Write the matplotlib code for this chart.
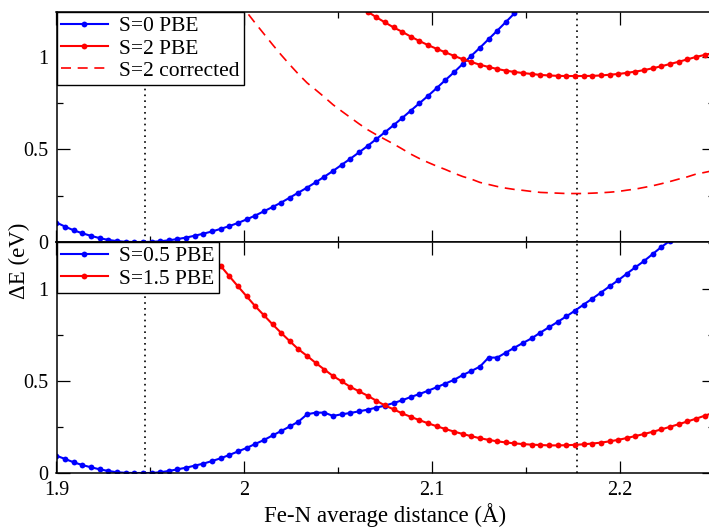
import matplotlib
matplotlib.use("Agg")
import matplotlib.pyplot as plt
from matplotlib.ticker import MultipleLocator, FuncFormatter

plt.rcParams['font.family'] = ['Liberation Serif', 'DejaVu Serif']
plt.rcParams['mathtext.fontset'] = 'stix'

# ---------------- data ----------------
# common Fe-N distance grid (Angstrom)
distance = [1.9000, 1.9046, 1.9092, 1.9138, 1.9184, 1.9230, 1.9276, 1.9322, 1.9368, 1.9414,
            1.9460, 1.9506, 1.9552, 1.9598, 1.9644, 1.9690, 1.9736, 1.9782, 1.9828, 1.9874,
            1.9920, 1.9966, 2.0012, 2.0058, 2.0104, 2.0150, 2.0196, 2.0242, 2.0288, 2.0334,
            2.0380, 2.0426, 2.0472, 2.0518, 2.0564, 2.0610, 2.0656, 2.0702, 2.0748, 2.0794,
            2.0840, 2.0886, 2.0932, 2.0978, 2.1024, 2.1070, 2.1116, 2.1162, 2.1208, 2.1254,
            2.1300, 2.1346, 2.1392, 2.1438, 2.1484, 2.1530, 2.1576, 2.1622, 2.1668, 2.1714,
            2.1760, 2.1806, 2.1852, 2.1898, 2.1944, 2.1990, 2.2036, 2.2082, 2.2128, 2.2174,
            2.2220, 2.2266, 2.2312, 2.2358, 2.2404, 2.2450, 2.2496]

# top panel
s0_start = 0
s0_pbe = [0.105, 0.083, 0.063, 0.047, 0.033, 0.021, 0.011, 0.005, 0.001, 0.000,
          0.000, 0.001, 0.004, 0.009, 0.016, 0.024, 0.034, 0.045, 0.057, 0.071,
          0.086, 0.103, 0.122, 0.143, 0.166, 0.189, 0.213, 0.240, 0.267, 0.294,
          0.323, 0.353, 0.384, 0.417, 0.450, 0.484, 0.519, 0.556, 0.593, 0.631,
          0.670, 0.710, 0.750, 0.790, 0.832, 0.875, 0.917, 0.962, 1.006, 1.050,
          1.096, 1.142, 1.189, 1.236]

s2_start = 35
s2_pbe = [1.277, 1.245, 1.215, 1.187, 1.160, 1.136, 1.110, 1.086, 1.064, 1.044,
          1.025, 1.006, 0.988, 0.973, 0.958, 0.946, 0.935, 0.926, 0.919, 0.913,
          0.908, 0.903, 0.900, 0.898, 0.897, 0.897, 0.897, 0.898, 0.900, 0.904,
          0.908, 0.914, 0.921, 0.929, 0.939, 0.950, 0.962, 0.974, 0.987, 1.000,
          1.011, 1.022]

s2_corr_start = 21
s2_corrected = [1.300, 1.243, 1.183, 1.125, 1.067, 1.011, 0.958, 0.907, 0.860, 0.822,
                0.783, 0.742, 0.707, 0.673, 0.639, 0.607, 0.580, 0.555, 0.530, 0.503,
                0.475, 0.451, 0.430, 0.410, 0.392, 0.372, 0.354, 0.340, 0.322, 0.311,
                0.300, 0.291, 0.284, 0.279, 0.273, 0.268, 0.266, 0.264, 0.262, 0.262,
                0.262, 0.264, 0.266, 0.269, 0.273, 0.280, 0.286, 0.295, 0.304, 0.315,
                0.327, 0.340, 0.352, 0.367, 0.376, 0.386]

# bottom panel
s05_start = 0
s05_pbe = [0.094, 0.076, 0.058, 0.043, 0.031, 0.020, 0.011, 0.004, 0.001, 0.000,
           0.000, 0.000, 0.004, 0.011, 0.020, 0.029, 0.040, 0.051, 0.065, 0.080,
           0.098, 0.117, 0.136, 0.158, 0.179, 0.204, 0.228, 0.253, 0.279, 0.319,
           0.328, 0.328, 0.310, 0.319, 0.326, 0.335, 0.344, 0.355, 0.366, 0.380,
           0.395, 0.413, 0.429, 0.447, 0.466, 0.486, 0.506, 0.532, 0.554, 0.578,
           0.627, 0.627, 0.654, 0.681, 0.707, 0.732, 0.763, 0.792, 0.821, 0.851,
           0.882, 0.915, 0.947, 0.980, 1.014, 1.047, 1.083, 1.118, 1.152, 1.190,
           1.228, 1.262]

s15_start = 16
s15_pbe = [1.292, 1.236, 1.180, 1.125, 1.069, 1.014, 0.960, 0.906, 0.857, 0.808,
           0.761, 0.716, 0.672, 0.636, 0.598, 0.562, 0.527, 0.498, 0.468, 0.444,
           0.420, 0.393, 0.367, 0.346, 0.324, 0.305, 0.287, 0.270, 0.254, 0.239,
           0.225, 0.212, 0.200, 0.189, 0.180, 0.172, 0.166, 0.161, 0.157, 0.154,
           0.152, 0.150, 0.150, 0.151, 0.153, 0.156, 0.160, 0.165, 0.172, 0.180,
           0.190, 0.201, 0.212, 0.224, 0.237, 0.251, 0.265, 0.280, 0.295, 0.311,
           0.327]

eq_low_spin = 1.947
eq_high_spin = 2.177

x_ticks = [1.9, 2.0, 2.1, 2.2]
y_ticks = [0, 0.5, 1]

BLUE = '#0000ff'
RED = '#ff0000'

fig = plt.figure(figsize=(7.09, 5.27), dpi=100)
left = 56.5 / 709
width = (714 - 56.5) / 709
ax_top = fig.add_axes([left, (527 - 242) / 527, width, 230 / 527])
ax_bot = fig.add_axes([left, (527 - 473) / 527, width, 231 / 527])


def seg(start, ys):
    return distance[start:start + len(ys)], ys


line_kw = dict(lw=1.5, marker='o', ms=4.2, markeredgewidth=0)

x, y = seg(s0_start, s0_pbe)
ax_top.plot(x, y, color=BLUE, label='S=0 PBE', **line_kw)
x, y = seg(s2_start, s2_pbe)
ax_top.plot(x, y, color=RED, label='S=2 PBE', **line_kw)
x, y = seg(s2_corr_start, s2_corrected)
ax_top.plot(x, y, color=RED, lw=1.2, linestyle=(0, (6, 4)), label='S=2 corrected')

x, y = seg(s05_start, s05_pbe)
ax_bot.plot(x, y, color=BLUE, label='S=0.5 PBE', **line_kw)
x, y = seg(s15_start, s15_pbe)
ax_bot.plot(x, y, color=RED, label='S=1.5 PBE', **line_kw)

for ax, ytop in ((ax_top, 1.243), (ax_bot, 1.255)):
    for xv in (eq_low_spin, eq_high_spin):
        ax.axvline(xv, color='black', lw=1.2, linestyle=(0, (1, 2.5)), zorder=1)
    ax.set_xlim(1.9, 2.25)
    ax.set_ylim(0, ytop)
    ax.set_xticks(x_ticks)
    ax.set_yticks(y_ticks)
    ax.xaxis.set_minor_locator(MultipleLocator(0.05))
    ax.yaxis.set_minor_locator(MultipleLocator(0.25))
    ax.tick_params(which='both', direction='in', top=True, right=True,
                   colors='black', labelsize=14.5, pad=6)
    ax.tick_params(which='major', length=9, width=0.9)
    ax.tick_params(which='minor', length=4.5, width=0.9)
    ax.yaxis.set_major_formatter(FuncFormatter(lambda v, p: '%g' % v))
    ax.xaxis.set_major_formatter(FuncFormatter(lambda v, p: '%g' % v))
    for s in ax.spines.values():
        s.set_linewidth(1.1)
        s.set_color('black')

ax_top.tick_params(labelbottom=False)
ax_bot.set_xlabel('Fe-N average distance (Å)', fontsize=16.5, labelpad=2)
fig.text(0.027, 0.505, 'ΔE (eV)', rotation=90, ha='center', va='center', fontsize=16.5)

leg_kw = dict(loc='upper left', borderaxespad=0, fancybox=False, framealpha=1,
              edgecolor='black', fontsize=15.5, handlelength=2.2, handletextpad=0.5,
              labelspacing=0.1, borderpad=0.2)
lg = ax_top.legend(**leg_kw)
lg.get_frame().set_linewidth(1.0)
lg2 = ax_bot.legend(**leg_kw)
lg2.get_frame().set_linewidth(1.0)

fig.savefig('out.png', dpi=100)
